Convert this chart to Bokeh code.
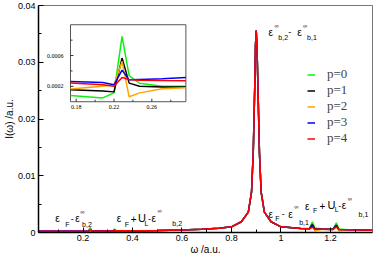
from bokeh.plotting import figure
from bokeh.models import (Range1d, FixedTicker, CustomJSTickFormatter,
                          Label, Legend, LegendItem)
from bokeh.core.properties import value
from bokeh.embed import file_html
from bokeh.resources import INLINE

# ---------------- data ----------------
omega = [0.02, 0.10, 0.174, 0.208, 0.220, 0.2285, 0.236, 0.247, 0.271, 0.296,
         0.32, 0.327, 0.335, 0.40, 0.50, 0.60, 0.68, 0.75, 0.80, 0.84,
         0.868, 0.881, 0.888, 0.894, 0.897, 0.900, 0.903, 0.907, 0.913, 0.920,
         0.933, 0.96, 1.00, 1.08, 1.115, 1.127, 1.137, 1.17, 1.21, 1.224,
         1.234, 1.27, 1.32, 1.37]

I_p0 = [0.00008, 0.00007, 0.00008, 0.00005, 0.000115, 0.00085, 0.00034, 0.00024, 0.0002, 0.0002,
        0.00022, 0.0006, 0.00025, 0.00028, 0.00034, 0.00044, 0.00057, 0.00074, 0.001, 0.0019,
        0.0036, 0.0071, 0.0141, 0.0256, 0.0329, 0.0356, 0.0329, 0.0256, 0.0141, 0.0071,
        0.0036, 0.0019, 0.001, 0.0007, 0.0007, 0.0019, 0.0008, 0.0006, 0.0006, 0.0017,
        0.0006, 0.0005, 0.00045, 0.0004]
I_p1 = [0.00016, 0.00016, 0.000157, 0.00014, 0.000128, 0.000567, 0.000242, 0.0002, 0.00019, 0.00019,
        0.0002, 0.0004, 0.00022, 0.00027, 0.00034, 0.00044, 0.00057, 0.00074, 0.001, 0.0019,
        0.0036, 0.0071, 0.0141, 0.0256, 0.0329, 0.0356, 0.0329, 0.0256, 0.0141, 0.0071,
        0.0036, 0.0019, 0.001, 0.0007, 0.00066, 0.0014, 0.00062, 0.00058, 0.00056, 0.0013,
        0.00052, 0.0005, 0.00045, 0.0004]
I_p2 = [0.00017, 0.00017, 0.000166, 0.0002, 0.00022, 0.000524, 0.000064, 0.000115, 0.00017, 0.000183,
        0.0002, 0.00033, 0.00019, 0.00027, 0.00034, 0.00044, 0.00057, 0.00074, 0.001, 0.0019,
        0.0036, 0.0071, 0.0141, 0.0256, 0.0329, 0.0356, 0.0329, 0.0256, 0.0141, 0.0071,
        0.0036, 0.0019, 0.001, 0.0007, 0.00065, 0.0011, 0.0003, 0.00055, 0.00054, 0.001,
        0.0003, 0.00048, 0.00044, 0.0004]
I_p3 = [0.00026, 0.00026, 0.000263, 0.00025, 0.00022, 0.00041, 0.000284, 0.00029, 0.0003, 0.000314,
        0.00032, 0.00035, 0.00032, 0.00031, 0.00037, 0.00046, 0.00059, 0.00076, 0.001, 0.0019,
        0.0036, 0.0071, 0.0141, 0.0256, 0.0329, 0.0356, 0.0329, 0.0256, 0.0141, 0.0071,
        0.0036, 0.0019, 0.001, 0.0007, 0.00065, 0.0012, 0.0006, 0.00058, 0.00055, 0.0012,
        0.00052, 0.0005, 0.00045, 0.0004]
I_p4 = [0.00024, 0.00024, 0.000242, 0.00022, 0.0002, 0.000314, 0.00029, 0.00028, 0.000275, 0.000271,
        0.00028, 0.0003, 0.00029, 0.0003, 0.00036, 0.00045, 0.00058, 0.00075, 0.001, 0.0019,
        0.0036, 0.0071, 0.0141, 0.0256, 0.0329, 0.0356, 0.0329, 0.0256, 0.0141, 0.0071,
        0.0036, 0.0019, 0.001, 0.0007, 0.00065, 0.0009, 0.0006, 0.00058, 0.00055, 0.001,
        0.00052, 0.0005, 0.00045, 0.0004]

series_labels = ["p=0", "p=1", "p=2", "p=3", "p=4"]
series_colors = ["#11ee11", "#000000", "#ffa500", "#0000ff", "#ff0000"]
series_values = [I_p0, I_p1, I_p2, I_p3, I_p4]

x_ticks = [0.2, 0.4, 0.6, 0.8, 1.0, 1.2]
x_minor = [0.1, 0.3, 0.5, 0.7, 0.9, 1.1, 1.3]
y_ticks = [0, 0.01, 0.02, 0.03, 0.04]
y_minor = [0.005, 0.015, 0.025, 0.035]
inset_x_ticks = [0.18, 0.22, 0.26]
inset_x_minor = [0.20, 0.24, 0.28]
inset_x_labels = ["0.18", "0.22", "0.26"]
inset_y_ticks = [0.0002, 0.0006]
inset_y_minor = [0.0004, 0.0008]
inset_y_labels = ["0.0002", "0.0006"]

X_RANGE = (0.02, 1.37)
Y_RANGE = (0.0, 0.04)
INSET_X = (0.174, 0.296)
INSET_Y = (0.0, 0.001)

for v in series_values:
    assert len(v) == len(omega)

# ------------- helpers: reference-pixel placement -> main data coords -------------
REF_L, REF_R, REF_T, REF_B = 35.0, 372.0, 4.0, 234.0


def ref_x(px):
    return X_RANGE[0] + (px - REF_L) / (REF_R - REF_L) * (X_RANGE[1] - X_RANGE[0])


def ref_y(py):
    return Y_RANGE[0] + (REF_B - py) / (REF_B - REF_T) * (Y_RANGE[1] - Y_RANGE[0])


# ---------------- figure ----------------
p = figure(width=374, height=257, output_backend="svg", toolbar_location=None,
           x_range=Range1d(*X_RANGE), y_range=Range1d(*Y_RANGE),
           min_border_left=35, min_border_right=2, min_border_top=5, min_border_bottom=25,
           x_axis_label="ω /a.u.", y_axis_label="I(ω) /a.u.")
p.xgrid.grid_line_color = None
p.ygrid.grid_line_color = None
p.outline_line_color = "#777777"
p.background_fill_color = "white"
p.border_fill_color = "white"

fmt = CustomJSTickFormatter(code="return tick.toString()")

xax = p.below[0]
yax = p.left[0]
xax.ticker = FixedTicker(ticks=x_ticks, minor_ticks=x_minor)
yax.ticker = FixedTicker(ticks=y_ticks, minor_ticks=y_minor)
for ax in (xax, yax):
    ax.formatter = fmt
    ax.axis_line_width = 1.5
    ax.axis_line_color = "black"
    ax.major_tick_in = 5
    ax.major_tick_out = 0
    ax.minor_tick_in = 3
    ax.minor_tick_out = 0
    ax.major_tick_line_color = "black"
    ax.minor_tick_line_color = "black"
    ax.major_label_text_font = "Liberation Sans"
    ax.major_label_text_font_size = "9px"
    ax.major_label_text_color = "black"
    ax.major_label_standoff = 3
    ax.axis_label_text_font = "Liberation Sans"
    ax.axis_label_text_font_size = "10px"
    ax.axis_label_text_font_style = "normal"
    ax.axis_label_text_color = "black"
    ax.axis_label_standoff = 0
xax.major_label_standoff = 2

# main curves
items = []
for vals, lab, col in zip(series_values, series_labels, series_colors):
    r = p.line(omega, vals, line_color=col, line_width=1.5)
    items.append(LegendItem(label=lab, renderers=[r]))

# ---------------- inset (mapped through extra ranges) ----------------
bx0, bx1 = ref_x(67.3), ref_x(183.7)
by0, by1 = ref_y(101.5), ref_y(23.5)
kx = (INSET_X[1] - INSET_X[0]) / (bx1 - bx0)
ky = (INSET_Y[1] - INSET_Y[0]) / (by1 - by0)
p.extra_x_ranges = {"ix": Range1d(INSET_X[0] - (bx0 - X_RANGE[0]) * kx,
                                  INSET_X[1] + (X_RANGE[1] - bx1) * kx)}
p.extra_y_ranges = {"iy": Range1d(INSET_Y[0] - (by0 - Y_RANGE[0]) * ky,
                                  INSET_Y[1] + (Y_RANGE[1] - by1) * ky)}
IN = dict(x_range_name="ix", y_range_name="iy")

p.quad(left=[INSET_X[0]], right=[INSET_X[1]], bottom=[INSET_Y[0]], top=[INSET_Y[1]],
       fill_color="white", line_color="#555555", line_width=1, **IN)

sel = [i for i, w in enumerate(omega) if INSET_X[0] <= w <= INSET_X[1]]
for vals, col in zip(series_values, series_colors):
    p.line([omega[i] for i in sel], [vals[i] for i in sel],
           line_color=col, line_width=1.5, **IN)

# inset ticks (inward) and tick labels
p.ray(x=inset_x_ticks, y=[INSET_Y[0]] * len(inset_x_ticks), length=3, length_units="screen",
      angle=90, angle_units="deg", line_color="#333333", line_width=1, **IN)
p.ray(x=inset_x_minor, y=[INSET_Y[0]] * len(inset_x_minor), length=2, length_units="screen",
      angle=90, angle_units="deg", line_color="#333333", line_width=1, **IN)
p.ray(x=[INSET_X[0]] * len(inset_y_ticks), y=inset_y_ticks, length=3, length_units="screen",
      angle=0, angle_units="deg", line_color="#333333", line_width=1, **IN)
p.ray(x=[INSET_X[0]] * len(inset_y_minor), y=inset_y_minor, length=2, length_units="screen",
      angle=0, angle_units="deg", line_color="#333333", line_width=1, **IN)
p.text(x=inset_x_ticks, y=[INSET_Y[0]] * len(inset_x_ticks), text=inset_x_labels,
       text_font=value("Liberation Serif"), text_font_size=value("6px"),
       text_align="center", text_baseline="top", y_offset=3, text_color="black", **IN)
p.text(x=[INSET_X[0]] * len(inset_y_ticks), y=inset_y_ticks, text=inset_y_labels,
       text_font=value("Liberation Serif"), text_font_size=value("6px"),
       text_align="right", text_baseline="middle", x_offset=-7, text_color="black", **IN)

# ---------------- legend ----------------
legend = Legend(items=items, location=(269, 86), padding=0, margin=0, spacing=0,
                border_line_color=None, background_fill_alpha=0,
                glyph_width=8, glyph_height=15, label_height=15, label_standoff=12,
                label_text_font="Liberation Serif", label_text_font_size="13px")
p.add_layout(legend)

# ---------------- annotations ----------------
annotation_pieces = [
    # peak label
    ("ε", 267, 31, 10), ("∞", 273, 25, 6), ("b,2", 277, 36, 7), ("-", 287, 31, 9),
    ("ε", 296, 31, 10), ("∞", 302, 25, 6), ("b,1", 306, 36, 7),
    # left bottom: eF - e_b,2
    ("ε", 52, 220, 10), ("F", 62, 225.5, 7), ("-", 67.5, 220, 9),
    ("ε", 72, 220, 10), ("∞", 77, 213, 6), ("b,2", 79, 225.5, 7),
    # eF + UL - e_b,2
    ("ε", 114, 220, 10), ("F", 122, 225.5, 7), ("+", 128, 220, 10),
    ("U", 135.5, 219.5, 11), ("L", 142, 225, 7), ("-", 145.5, 220, 9),
    ("ε", 149, 220, 10), ("∞", 155, 212, 6), ("b,2", 170, 225, 7),
    # eF - e_b,1
    ("ε", 267, 215.5, 10), ("F", 274, 220, 7), ("-", 280.5, 215.5, 9),
    ("ε", 287, 215.5, 10), ("∞", 293, 208, 6), ("b,1", 298, 224, 7),
    # eF + UL - e_b,1
    ("ε", 304, 207.5, 10), ("F", 312, 212, 7), ("+", 318.5, 207, 10),
    ("U", 326.5, 206, 11), ("L", 334, 211, 7), ("-", 337.5, 207, 9),
    ("ε", 341, 207, 10), ("∞", 347, 200, 6), ("b,1", 358, 216, 7),
]
for txt, px, py, size in annotation_pieces:
    p.add_layout(Label(x=ref_x(px), y=ref_y(py), text=txt,
                       text_font="Liberation Sans", text_font_size=f"{size}px",
                       text_align="left", text_baseline="middle", text_color="black"))

open("out.html", "w").write(file_html(p, INLINE))
